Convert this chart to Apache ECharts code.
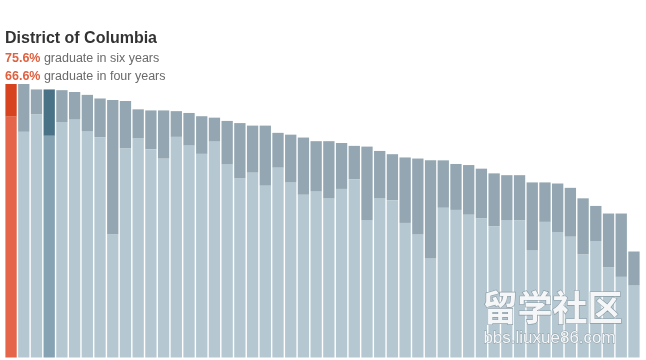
<!DOCTYPE html>
<html>
<head>
<meta charset="utf-8">
<script src="https://cdn.jsdelivr.net/npm/echarts@6/dist/echarts.min.js"></script>
<style>
html,body{margin:0;padding:0;background:#fff;}
#chart{width:646px;height:360px;}
</style>
</head>
<body>
<div id="chart"></div>
<script>
// Data (ordered by six-year graduation rate)
const categories = Array.from({length: 50}, (_, i) => String(i + 1));
const sixYear = [75.6, 75.6, 74.1, 74.1, 73.9, 73.4, 72.6, 71.6, 71.2, 70.9,
                 68.6, 68.3, 68.3, 68.1, 67.6, 66.7, 66.3, 65.4, 64.8, 64.1,
                 64.1, 62.1, 61.6, 60.8, 59.8, 59.8, 59.3, 58.5, 58.3, 57.1,
                 56.2, 55.3, 55.0, 54.5, 54.5, 53.5, 53.2, 52.2, 50.9, 50.4,
                 50.4, 48.4, 48.4, 48.1, 46.9, 44.0, 41.9, 39.8, 39.8, 29.3];
const fourYear = [66.6, 62.4, 67.2, 61.3, 65.1, 65.9, 62.6, 60.9, 34.1, 57.8,
                  60.6, 57.6, 55.0, 61.0, 58.6, 56.3, 59.7, 53.4, 49.5, 51.1,
                  47.5, 52.5, 48.5, 45.0, 46.0, 44.0, 46.6, 49.3, 38.0, 44.0,
                  43.5, 37.2, 34.0, 27.4, 41.4, 40.8, 39.5, 38.5, 36.3, 38.0,
                  37.9, 29.7, 37.5, 34.7, 33.4, 28.5, 32.2, 24.9, 22.3, 19.9];
const featuredName = "District of Columbia";
const featuredIndex = 0;
const secondaryIndex = 3;

const colors = {
  featTop: '#d8431f', featBottom: '#e5654a',
  secTop: '#4a7287', secBottom: '#85a3b3',
  top: '#93a6b1', bottom: '#b5c8d2'
};

function colorFor(idx, part) {
  if (idx === featuredIndex) return part === 'top' ? colors.featTop : colors.featBottom;
  if (idx === secondaryIndex) return part === 'top' ? colors.secTop : colors.secBottom;
  return part === 'top' ? colors.top : colors.bottom;
}

const diff = sixYear.map((v, i) => +(v - fourYear[i]).toFixed(1));

const chart = echarts.init(document.getElementById('chart'), null, {renderer: 'canvas'});
chart.setOption({
  animation: false,
  backgroundColor: '#ffffff',
  title: {
    left: 5, top: 31, padding: 0,
    text: featuredName,
    textStyle: {fontFamily: 'Liberation Sans, Arial, sans-serif', fontSize: 16, fontWeight: 'bold', color: '#333333'},
    subtext: '{a|' + sixYear[featuredIndex].toFixed(1) + '%} graduate in six years\n{a|' + fourYear[featuredIndex].toFixed(1) + '%} graduate in four years',
    itemGap: 3,
    subtextStyle: {
      fontFamily: 'Liberation Sans, Arial, sans-serif', fontSize: 12.5, color: '#6a6a6a', lineHeight: 17.5,
      rich: {a: {fontFamily: 'Liberation Sans, Arial, sans-serif', fontSize: 12.5, fontWeight: 'bold', color: '#e0603f', lineHeight: 17.5}}
    }
  },
  grid: {left: 4.7, right: 5.7, top: 68.1, bottom: 2.5, containLabel: false},
  xAxis: {
    type: 'category', data: categories,
    axisLine: {show: false}, axisTick: {show: false}, axisLabel: {show: false}, splitLine: {show: false}
  },
  yAxis: {
    type: 'value', min: 0, max: 80,
    axisLine: {show: false}, axisTick: {show: false}, axisLabel: {show: false}, splitLine: {show: false}
  },
  series: [
    {
      name: 'four', type: 'bar', stack: 'g', barCategoryGap: '11%',
      data: fourYear.map((v, i) => ({value: v, itemStyle: {color: colorFor(i, 'bottom')}}))
    },
    {
      name: 'six', type: 'bar', stack: 'g', barCategoryGap: '11%',
      data: diff.map((v, i) => ({value: v, itemStyle: {color: colorFor(i, 'top')}}))
    }
  ],
  graphic: [
    {
      type: 'text', left: 482, top: 290, z: 100,
      style: {
        text: '留学社区', fill: '#f4f6f7', font: 'bold 35px "Noto Sans CJK SC", sans-serif',
        stroke: '#8a9aa3', lineWidth: 1.2, shadowBlur: 3, shadowColor: 'rgba(0,0,0,0.5)', shadowOffsetX: 1, shadowOffsetY: 1
      }
    },
    {
      type: 'text', left: 483, top: 329, z: 100,
      style: {
        text: 'bbs.liuxue86.com', fill: '#f4f6f7', font: '17px "Liberation Sans", Arial, sans-serif',
        stroke: '#8a9aa3', lineWidth: 0.8, shadowBlur: 2, shadowColor: 'rgba(0,0,0,0.45)', shadowOffsetX: 1, shadowOffsetY: 1
      }
    }
  ]
});
</script>
</body>
</html>
